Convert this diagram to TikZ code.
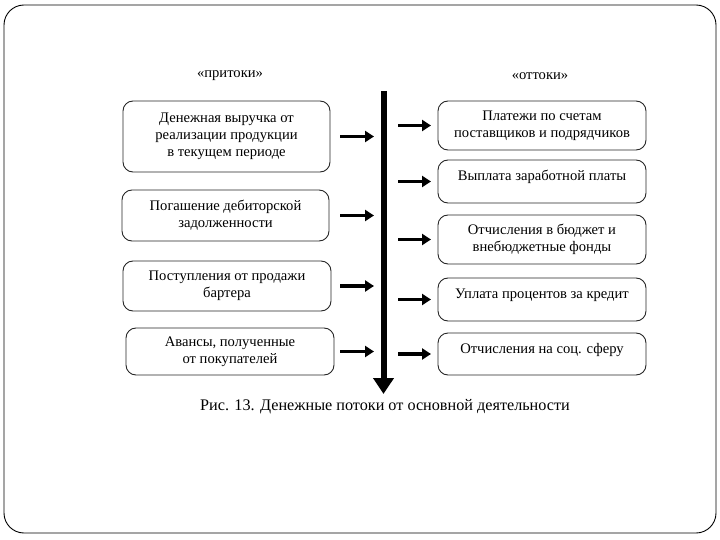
\documentclass[tikz,border=0pt]{standalone}
\usepackage{fontspec}
\setmainfont{Liberation Serif}
\usetikzlibrary{arrows.meta}
\tikzset{
  box/.style={draw=black!85, line width=0.9pt, rounded corners=10pt, align=center,
    inner sep=0pt, font=\fontsize{14.6}{17}\selectfont},
  upper/.style={text depth=11.5pt},
  arr/.style={line width=3.2pt, -{Triangle[length=9pt,width=11pt]}},
  spinearr/.style={line width=6pt, -{Triangle[length=16pt,width=20pt]}},
  lbl/.style={font=\fontsize{14.6}{17}\selectfont},
}
\begin{document}
\begin{tikzpicture}[x=1pt,y=-1pt]
\useasboundingbox (0,0) rectangle (720,540);
\draw[line width=0.9pt, rounded corners=20pt] (4,5) rectangle (716,533);
% labels
\node[lbl] (lin) at (230,76) {«притоки»};
\node[lbl] (lout) at (540,76) {«оттоки»};
% left boxes
\node[box, minimum width=207pt, minimum height=71pt] (L1) at (226.5,136.5) {Денежная выручка от\\реализации продукции\\в текущем периоде};
\node[box, minimum width=207pt, minimum height=51pt] (L2) at (225.5,215.5) {Погашение дебиторской\\задолженности};
\node[box, minimum width=208pt, minimum height=50pt] (L3) at (227,286) {Поступления от продажи\\бартера};
\node[box, minimum width=208pt, minimum height=47pt] (L4) at (230,351.5) {Авансы, полученные\\от покупателей};
% right boxes
\node[box, minimum width=208pt, minimum height=49pt] (R1) at (542,125.5) {Платежи по счетам\\поставщиков и подрядчиков};
\node[box, upper, minimum width=208pt, minimum height=43pt] (R2) at (542,181.5) {Выплата заработной платы};
\node[box, minimum width=208pt, minimum height=49pt] (R3) at (542,239.5) {Отчисления в бюджет и\\внебюджетные фонды};
\node[box, upper, minimum width=208pt, minimum height=43pt] (R4) at (542,299.5) {Уплата процентов за кредит};
\node[box, upper, minimum width=208pt, minimum height=42pt] (R5) at (542,354) {Отчисления на соц. сферу};
% spine
\coordinate (stop) at (383.5,91);
\coordinate (sbot) at (383.5,394);
\draw[spinearr] (stop) -- (sbot);
% left arrows
\foreach \n in {L1,L2,L3,L4}{
  \draw[arr] (\n.east -| 340,0) -- (\n.east -| 374,0);
}
% right arrows
\foreach \n in {R1,R2,R3,R4,R5}{
  \draw[arr] (\n.west -| 398,0) -- (\n.west -| 431,0);
}
% caption
\node[font=\fontsize{16.2}{19}\selectfont] (cap) at (385,407) {Рис. 13. Денежные потоки от основной деятельности};
\end{tikzpicture}
\end{document}
